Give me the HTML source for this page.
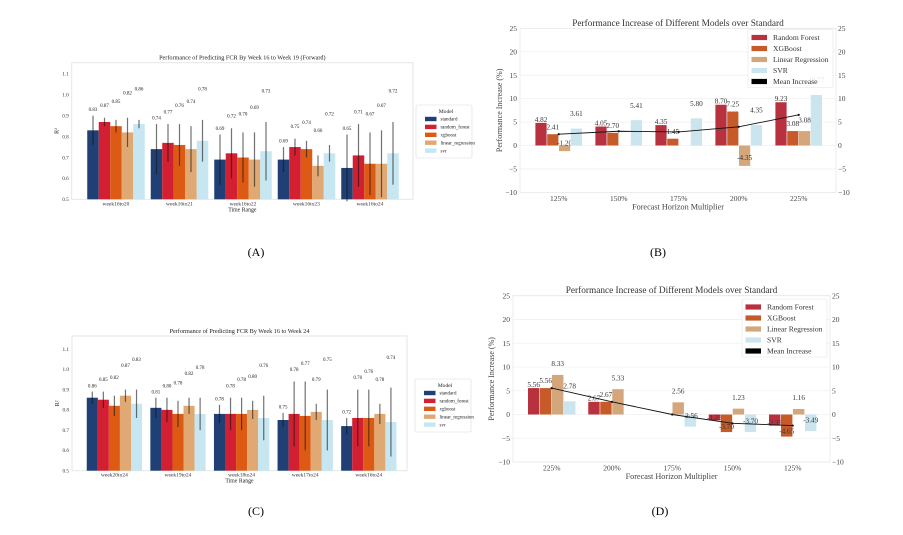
<!DOCTYPE html>
<html><head><meta charset="utf-8"><style>
html,body{margin:0;padding:0;background:#fff;}
svg{display:block;font-family:"Liberation Serif",serif;}
</style></head><body>
<svg id="fig" width="903" height="535" viewBox="0 0 903 535" xmlns="http://www.w3.org/2000/svg">
<rect x="0" y="0" width="903" height="535" fill="#fff"/>
<text x="256" y="256" font-size="12" text-anchor="middle">(A)</text>
<text x="658" y="256" font-size="12" text-anchor="middle">(B)</text>
<text x="256" y="515" font-size="12" text-anchor="middle">(C)</text>
<text x="660" y="515" font-size="12" text-anchor="middle">(D)</text>
</svg>
<script>
// ---- Panel A data ----
const aCategories = ["week16to20","week16to21","week16to22","week16to23","week16to24"];
const aStandard = [0.83,0.74,0.69,0.69,0.65];
const aRandomForest = [0.87,0.77,0.72,0.75,0.71];
const aXgboost = [0.85,0.76,0.70,0.74,0.67];
const aLinear = [0.82,0.74,0.69,0.66,0.67];
const aSvr = [0.86,0.78,0.73,0.72,0.72];
const aErrStandard = [0.07,0.12,0.12,0.06,0.16];
const aErrRandomForest = [0.02,0.09,0.12,0.04,0.15];
const aErrXgboost = [0.03,0.10,0.12,0.04,0.15];
const aErrLinear = [0.07,0.11,0.13,0.05,0.16];
const aErrSvr = [0.02,0.10,0.14,0.04,0.15];
// ---- Panel C data ----
const cCategories = ["week20to24","week19to24","week18to24","week17to24","week16to24"];
const cStandard = [0.86,0.81,0.78,0.75,0.72];
const cRandomForest = [0.85,0.80,0.78,0.78,0.76];
const cXgboost = [0.82,0.78,0.78,0.77,0.76];
const cLinear = [0.87,0.82,0.80,0.79,0.78];
const cSvr = [0.83,0.78,0.76,0.75,0.74];
const cErrStandard = [0.03,0.05,0.045,0.035,0.04];
const cErrRandomForest = [0.04,0.06,0.08,0.16,0.14];
const cErrXgboost = [0.05,0.065,0.08,0.17,0.14];
const cErrLinear = [0.03,0.04,0.045,0.04,0.05];
const cErrSvr = [0.07,0.08,0.11,0.15,0.17];
const r2Ticks = [0.5,0.6,0.7,0.8,0.9,1.0,1.1];
// ---- Panel B data ----
const bCategories = ["125%","150%","175%","200%","225%"];
const bRandomForest = [4.82,4.05,4.35,8.70,9.23];
const bXgboost = [2.41,2.70,1.45,7.25,3.08];
const bLinear = [-1.20,0,0,-4.35,3.08];
const bSvr = [3.61,5.41,5.80,4.35,10.77];
// ---- Panel D data ----
const dCategories = ["225%","200%","175%","150%","125%"];
const dRandomForest = [5.56,2.67,0,-1.23,-2.33];
const dXgboost = [5.56,2.67,0,-3.70,-4.65];
const dLinear = [8.33,5.33,2.56,1.23,1.16];
const dSvr = [2.78,0,-2.56,-3.70,-3.49];
const pctTicks = [-10,-5,0,5,10,15,20,25];

const NS="http://www.w3.org/2000/svg";
const svg=document.getElementById('fig');
function mk(tag,attrs,parent){const e=document.createElementNS(NS,tag);for(const k in attrs)e.setAttribute(k,attrs[k]);(parent||svg).appendChild(e);return e;}
function txt(s,attrs,parent){const e=mk('text',attrs,parent);e.textContent=s;return e;}

function r2Panel(cfg){
  const g=mk('g',{});
  
  
  const y=v=>cfg.y0-(v-0.5)*cfg.k;
  const fr=mk('rect',{x:cfg.x0,y:cfg.top,width:cfg.x1-cfg.x0,height:cfg.y0-cfg.top,fill:'none',stroke:'#e6e6e6','stroke-width':1},g);
  
  
  r2Ticks.forEach(t=>{
    const e=txt(t.toFixed(1),{x:cfg.x0-3,y:y(t)+1.8,'font-size':5.2,'text-anchor':'end',fill:'#333'},g);
    
    
  });
  const colors=['#1f3f75','#d21f31','#dc5a14','#e0a872','#c6e6f2'];
  cfg.series.forEach((s,j)=>{
    s.forEach((v,i)=>{
      const cx=cfg.c0+cfg.step*i+(j-2)*cfg.bw;
      const b=mk('rect',{x:cx-cfg.bw/2,y:y(v),width:cfg.bw,height:y(0.5)-y(v),fill:colors[j]},g);
      
      
      const er=cfg.errs[j][i];
      const l=mk('line',{x1:cx,x2:cx,y1:y(v-er),y2:y(v+er),stroke:'rgba(20,20,20,0.6)','stroke-width':1.2},g);
      
      
      const lt=txt(v.toFixed(2),{x:cx,y:y(v+er+0.03*(j+1))+1.8,'font-size':5,'text-anchor':'middle',fill:'#222'},g);
      
      
    });
  });
  cfg.cats.forEach((c,i)=>{
    const e=txt(c,{x:cfg.c0+cfg.step*i,y:cfg.y0+6,'font-size':5.5,'text-anchor':'middle',fill:'#333'},g);
    
    
  });
  let e=txt(cfg.title,{x:(cfg.x0+cfg.x1)/2,y:cfg.top-3,'font-size':6.2,'text-anchor':'middle',fill:'#222'},g);
  
  
  e=txt('Time Range',{x:(cfg.x0+cfg.x1)/2,y:cfg.y0+12,'font-size':5.8,'text-anchor':'middle',fill:'#222'},g);
  
  
  e=txt('R²',{x:0,y:0,'font-size':6,'text-anchor':'middle',fill:'#222',transform:`translate(${cfg.x0-13},${(cfg.top+cfg.y0)/2}) rotate(-90)`},g);
  
  
  // legend
  const L=cfg.leg;
  const lg=mk('g',{},g);
  
  
  mk('rect',{x:L.x,y:L.y,width:56,height:53,fill:'#fff',stroke:'#ddd','stroke-width':0.6,rx:1.5},lg);
  e=txt('Model',{x:L.x+30,y:L.y+8,'font-size':5.6,'text-anchor':'middle',fill:'#222'},lg);
  
  
  cfg.labels.forEach((n,j)=>{
    const yy=L.y+14+j*7.9;
    const p=mk('rect',{x:L.x+9,y:yy-2.2,width:11.5,height:4.4,fill:colors[j]},lg);
    
    
    const t=txt(n,{x:L.x+24.5,y:yy+1.7,'font-size':5,fill:'#222'},lg);
    
    
  });
}
const modelLabels=['standard','random_forest','xgboost','linear_regression','svr'];
r2Panel({name:'chart-a',x0:71.7,x1:413,top:62.7,y0:199.3,k:209,c0:116,step:63.5,bw:11.5,cats:aCategories,
  series:[aStandard,aRandomForest,aXgboost,aLinear,aSvr],errs:[aErrStandard,aErrRandomForest,aErrXgboost,aErrLinear,aErrSvr],
  labels:modelLabels,title:'Performance of Predicting FCR By Week 16 to Week 19 (Forward)',leg:{x:416,y:105}});
r2Panel({name:'chart-c',x0:72,x1:407,top:336,y0:470.7,k:202.8,c0:114.4,step:63.6,bw:11.06,cats:cCategories,
  series:[cStandard,cRandomForest,cXgboost,cLinear,cSvr],errs:[cErrStandard,cErrRandomForest,cErrXgboost,cErrLinear,cErrSvr],
  labels:modelLabels,title:'Performance of Predicting FCR By Week 16 to Week 24',leg:{x:415,y:379}});

function pctPanel(cfg){
  const g=mk('g',{});
  
  
  const y=v=>cfg.yz-v*cfg.k;
  pctTicks.forEach(t=>{
    const gl=mk('line',{x1:cfg.x0,x2:cfg.x1,y1:y(t),y2:y(t),stroke:'#f0f0f0','stroke-width':0.8},g);
    
    
    let e=txt(t<0?'−'+Math.abs(t):String(t),{x:cfg.x0-3,y:y(t)+2.6,'font-size':7.5,'text-anchor':'end',fill:'#444'},g);
    
    
    e=txt(t<0?'−'+Math.abs(t):String(t),{x:cfg.x1+2,y:y(t)+2.6,'font-size':7.5,'text-anchor':'start',fill:'#444'},g);
    
    
  });
  const f=mk('rect',{x:cfg.x0,y:y(25),width:cfg.x1-cfg.x0,height:y(-10)-y(25),fill:'none',stroke:'#e8e8e8','stroke-width':0.8},g);
  
  
  const colors=['#b8313f','#c65b29','#d4a67b','#cbe5ef'];
  cfg.series.forEach((s,j)=>{
    s.forEach((v,i)=>{
      const cx=cfg.c0+cfg.step*i+(j-1.5)*cfg.bw;
      const b=mk('rect',{x:cx-cfg.bw/2+0.3,y:Math.min(y(v),y(0)),width:cfg.bw-0.6,height:Math.abs(y(v)-y(0)),fill:colors[j]},g);
      
      
      if(v!==0){
        const off=v>=0?0.8*(j+1):0.6*(j+1);
        const t=txt(v.toFixed(2).replace('-','-'),{x:cx,y:y(v+off)+2.6,'font-size':7.2,'text-anchor':'middle',fill:'#333'},g);
        
        
      }
    });
  });
  const means=cfg.cats.map((c,i)=>cfg.series.reduce((a,s)=>a+s[i],0)/cfg.series.length);
  const pts=means.map((m,i)=>[cfg.c0+cfg.step*i,y(m)]);
  const pl=mk('polyline',{points:pts.map(p=>p.join(',')).join(' '),fill:'none',stroke:'#111','stroke-width':0.9},g);
  
  
  pts.forEach(p=>{
    const c=mk('circle',{cx:p[0],cy:p[1],r:1.1,fill:'#111'},g);
    
    
  });
  cfg.cats.forEach((c,i)=>{
    const e=txt(c,{x:cfg.c0+cfg.step*i,y:y(-10)+8.5,'font-size':7.5,'text-anchor':'middle',fill:'#444'},g);
    
    
  });
  let e=txt('Performance Increase of Different Models over Standard',{x:(cfg.x0+cfg.x1)/2,y:y(25)-2.5,'font-size':9.3,'text-anchor':'middle',fill:'#333'},g);
  
  
  e=txt('Forecast Horizon Multiplier',{x:(cfg.x0+cfg.x1)/2,y:y(-10)+17,'font-size':8.2,'text-anchor':'middle',fill:'#444'},g);
  
  
  e=txt('Performance Increase (%)',{x:0,y:0,'font-size':8,'text-anchor':'middle',fill:'#444',transform:`translate(${cfg.ylx},${(y(25)+y(-10))/2}) rotate(-90)`},g);
  
  
  const L=cfg.leg;
  const lg=mk('g',{},g);
  
  
  mk('rect',{x:L.x,y:L.y,width:L.w,height:58,fill:'rgba(255,255,255,0.85)',stroke:'#e4e4e4','stroke-width':0.6,rx:1.5},lg);
  const names=cfg.labels.concat(['Mean Increase']);
  const lc=colors.concat(['#000']);
  names.forEach((n,j)=>{
    const yy=L.y+8+j*11;
    const p=mk('rect',{x:L.x+3.5,y:yy-2.6,width:15.5,height:5.2,fill:lc[j]},lg);
    
    
    const t=txt(n,{x:L.x+25,y:yy+2.6,'font-size':7.6,fill:'#333'},lg);
    
    
  });
}
const pctLabels=['Random Forest','XGBoost','Linear Regression','SVR'];
pctPanel({name:'chart-b',x0:520,x1:836,yz:145.5,k:4.686,c0:558.7,step:60,bw:11.8,cats:bCategories,
  series:[bRandomForest,bXgboost,bLinear,bSvr],labels:pctLabels,ylx:502,leg:{x:748,y:29.5,w:85}});
pctPanel({name:'chart-d',x0:513,x1:830,yz:414.5,k:4.752,c0:551.7,step:60.25,bw:12,cats:dCategories,
  series:[dRandomForest,dXgboost,dLinear,dSvr],labels:pctLabels,ylx:494,leg:{x:742,y:299,w:85}});
</script>
</body></html>
